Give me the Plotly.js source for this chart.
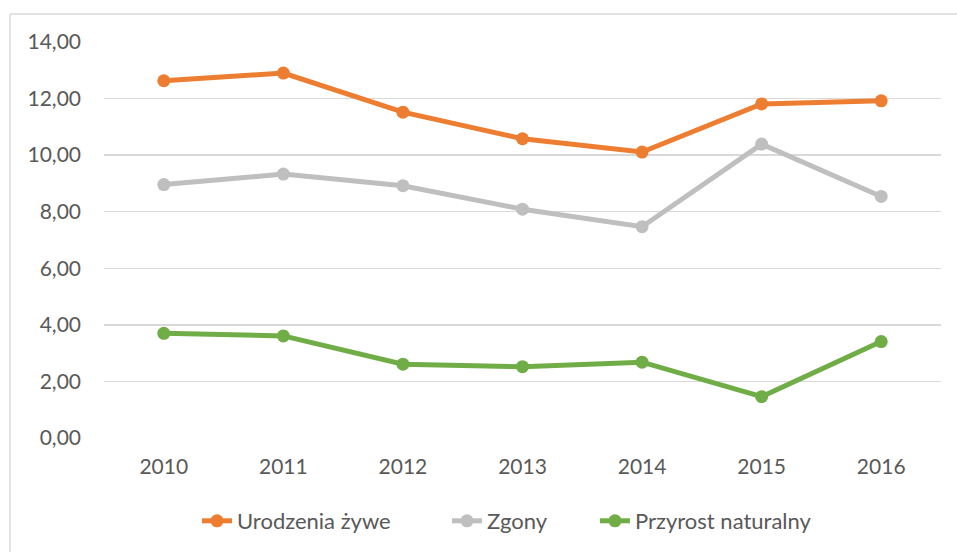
<!DOCTYPE html>
<html>
<head>
<meta charset="utf-8">
<script src="https://cdn.plot.ly/plotly-3.0.1.min.js"></script>
<style>html,body{margin:0;padding:0;background:#fff;}#chart{width:957px;height:552px;}</style>
</head>
<body>
<div id="chart"></div>
<script>
const years = ['2010', '2011', '2012', '2013', '2014', '2015', '2016'];
const urodzenia = [12.63, 12.90, 11.52, 10.58, 10.11, 11.81, 11.92];
const zgony = [8.96, 9.33, 8.92, 8.09, 7.47, 10.39, 8.54];
const przyrost = [3.70, 3.61, 2.61, 2.52, 2.68, 1.46, 3.41];
const seriesNames = ['Urodzenia żywe', 'Zgony', 'Przyrost naturalny'];
const yTicks = [0, 2, 4, 6, 8, 10, 12, 14];

const colors = ['#ED7D31', '#BFBFBF', '#70AD47'];
const legendIds = ['legend', 'legend2', 'legend3'];
const data = [urodzenia, zgony, przyrost].map((vals, i) => ({
  type: 'scatter', mode: 'lines+markers', x: years, y: vals, name: seriesNames[i],
  line: {color: colors[i], width: 5}, marker: {color: colors[i], size: 13},
  legend: legendIds[i], hoverinfo: 'none'
}));

const W = 957, H = 552, L = 104, R = 16, T = 42, B = 114;
const pw = W - L - R, ph = H - T - B;
const px = v => (v - L) / pw, py = v => (H - B - v) / ph;

const textStarts = [237, 487, 635];
const legendBase = {orientation: 'h', xanchor: 'left', y: py(521), yanchor: 'middle',
                    borderwidth: 0, bgcolor: 'rgba(0,0,0,0)', font: {size: 22, color: '#595959'}};

const layout = {
  width: W, height: H,
  margin: {l: L, r: R, t: T, b: B, autoexpand: false},
  paper_bgcolor: '#ffffff', plot_bgcolor: '#ffffff',
  font: {family: 'Lato, Carlito, "Noto Sans", sans-serif', size: 21, color: '#595959'},
  separators: ', ',
  showlegend: true,
  xaxis: {type: 'category', range: [-0.5, 6.5], showgrid: false, zeroline: false,
          showline: false, ticks: '', ticklabelstandoff: 14, fixedrange: true, automargin: false},
  yaxis: {range: [0, 14], tickvals: yTicks, tickformat: '.2f', showgrid: true,
          gridcolor: '#D9D9D9', gridwidth: 1.5, zeroline: false, showline: false,
          ticks: '', ticklabelstandoff: 22, fixedrange: true, automargin: false},
  shapes: [
    {type: 'line', xref: 'paper', yref: 'paper', x0: px(10), x1: px(957), y0: py(14), y1: py(14),
     line: {color: '#D9D9D9', width: 1.5}},
    {type: 'line', xref: 'paper', yref: 'paper', x0: px(10), x1: px(10), y0: py(14), y1: py(552),
     line: {color: '#D9D9D9', width: 1.5}}
  ]
};
legendIds.forEach((id, i) => {
  layout[id] = Object.assign({}, legendBase, {x: px(textStarts[i] - 40)});
});

Plotly.newPlot('chart', data, layout, {displayModeBar: false, staticPlot: true});
</script>
</body>
</html>
